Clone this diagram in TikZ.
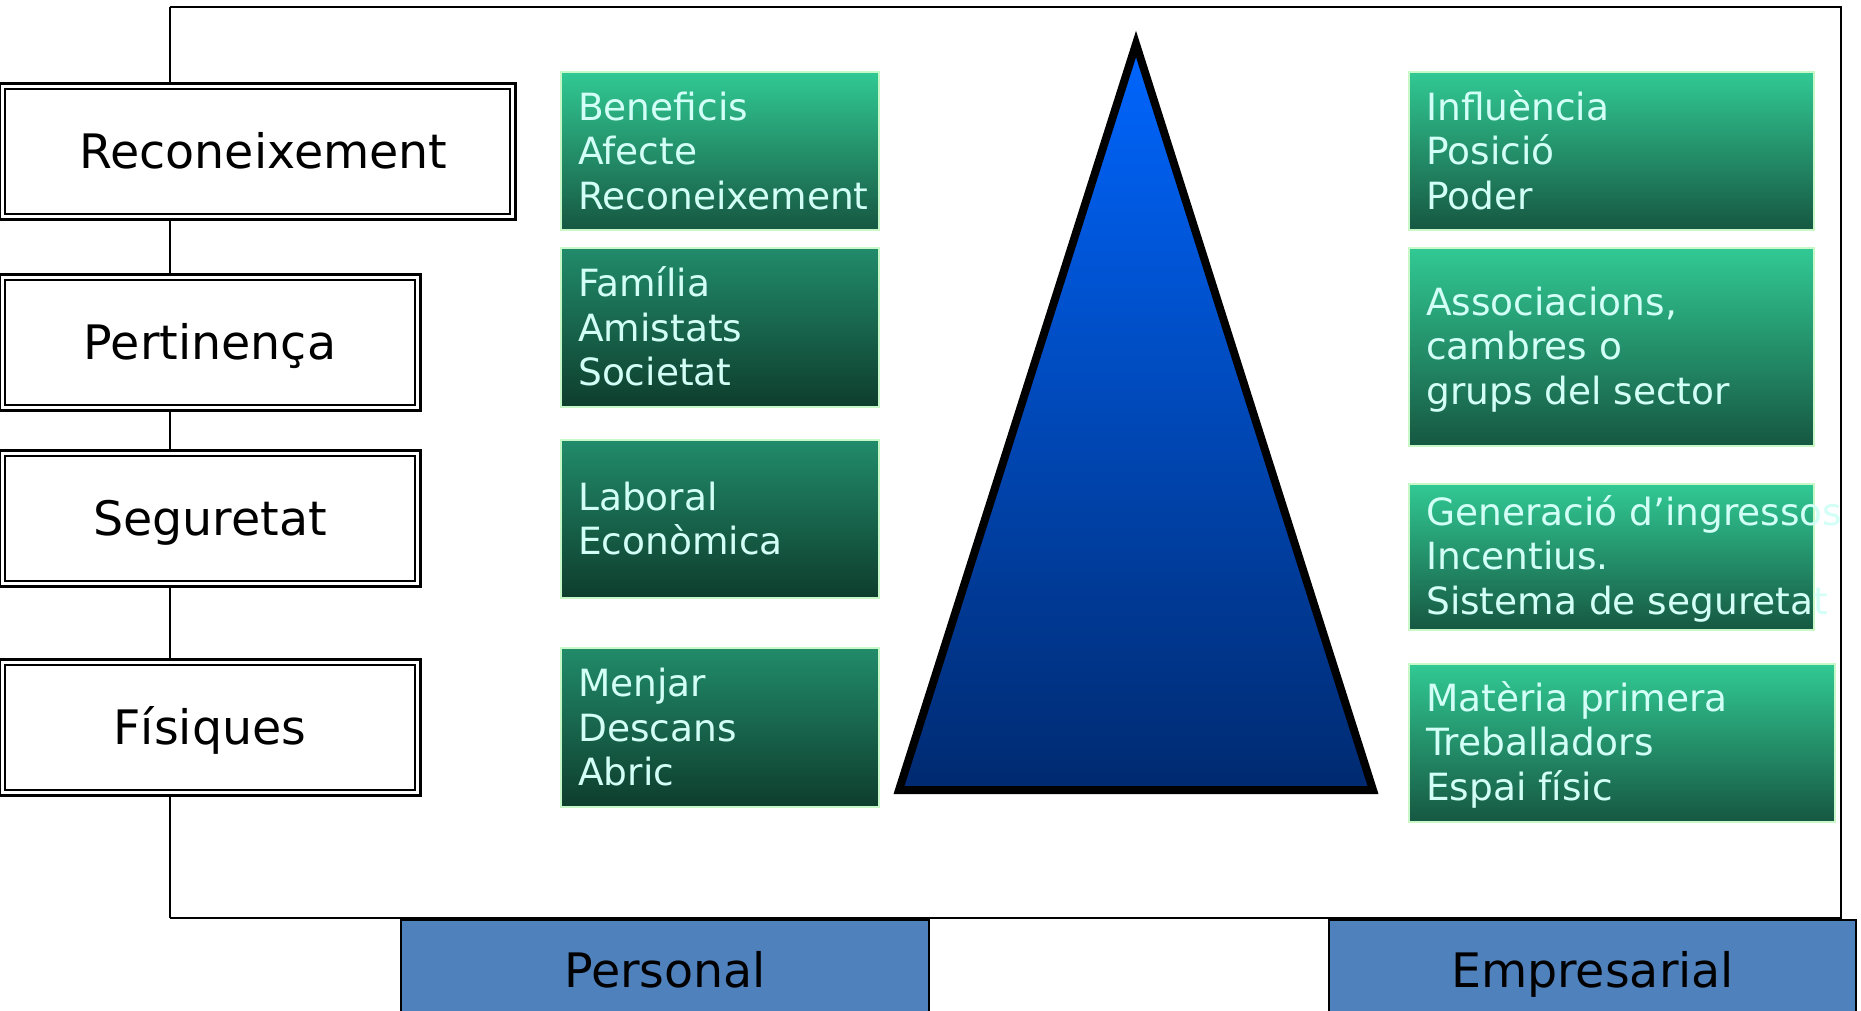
\documentclass[tikz,border=0pt]{standalone}
\usepackage{fontspec}
\setmainfont{DejaVu Sans}
\definecolor{gtopA}{HTML}{31C994}
\definecolor{gbotA}{HTML}{165741}
\definecolor{gtopB}{HTML}{218B6A}
\definecolor{gbotB}{HTML}{0E3D2D}
\definecolor{gline}{HTML}{C8F8C8}
\definecolor{gtxt}{HTML}{D2FFF6}
\definecolor{tritop}{HTML}{0066FF}
\definecolor{tribot}{HTML}{002A70}
\definecolor{bluebox}{HTML}{4F81BD}
\newcommand\gst{\rule[-0.17em]{0pt}{1.07em}}
\begin{document}
\begin{tikzpicture}[x=1pt,y=-1pt,
  lbox/.style={draw=black, line width=2pt, fill=white,
    anchor=north west, inner sep=0pt},
  lout/.style={draw=black, line width=3pt},
  ltext/.style={font=\fontsize{47.5}{57}\selectfont, text height=34.7pt, text depth=0pt, inner sep=0pt},
  gboxA/.style={draw=gline, line width=2pt, top color=gtopA, bottom color=gbotA,
    anchor=north west, inner sep=0pt},
  gboxB/.style={draw=gline, line width=2pt, top color=gtopB, bottom color=gbotB,
    anchor=north west, inner sep=0pt},
  gtext/.style={text=gtxt, font=\fontsize{37.5}{44.5}\selectfont, align=left, anchor=west, inner sep=0pt},
  bbox/.style={draw=black, line width=2pt, fill=bluebox, inner sep=0pt, anchor=north west},
  frameline/.style={line width=2.3pt},
  linkline/.style={line width=1.4pt}
]
\useasboundingbox (0,0) rectangle (1861,1011);

% frame
\coordinate (tl) at (170,7);
\coordinate (tr) at (1841,7);
\coordinate (br) at (1841,918);
\coordinate (bl) at (170,918);
\draw[frameline] (tl) -- (tr) -- (br) -- (bl);

% left boxes (double border: outer thick, inner thin)
\node[lbox, minimum width=505, minimum height=125] (rec) at (4,88) {};
\draw[lout] ([shift={(-4.5,-4.5)}]rec.north west) rectangle ([shift={(4.5,4.5)}]rec.south east);
\node[ltext] at ([xshift=6pt]rec.center) {Reconeixement};
\node[lbox, minimum width=410, minimum height=125] (per) at (4,279) {};
\draw[lout] ([shift={(-4.5,-4.5)}]per.north west) rectangle ([shift={(4.5,4.5)}]per.south east);
\node[ltext] at (per.center) {Pertinença};
\node[lbox, minimum width=410, minimum height=125] (seg) at (4,455) {};
\draw[lout] ([shift={(-4.5,-4.5)}]seg.north west) rectangle ([shift={(4.5,4.5)}]seg.south east);
\node[ltext] at (seg.center) {Seguretat};
\node[lbox, minimum width=410, minimum height=125] (fis) at (4,664) {};
\draw[lout] ([shift={(-4.5,-4.5)}]fis.north west) rectangle ([shift={(4.5,4.5)}]fis.south east);
\node[ltext] at (fis.center) {Físiques};

\draw[linkline] (tl) -- ([yshift=4.5pt]rec.north -| tl);
\draw[linkline] ([yshift=-4.5pt]rec.south -| tl) -- ([yshift=4.5pt]per.north -| tl);
\draw[linkline] ([yshift=-4.5pt]per.south -| tl) -- ([yshift=4.5pt]seg.north -| tl);
\draw[linkline] ([yshift=-4.5pt]seg.south -| tl) -- ([yshift=4.5pt]fis.north -| tl);
\draw[linkline] ([yshift=-4.5pt]fis.south -| tl) -- (bl);

% triangle
\draw[line width=8pt, line join=miter, miter limit=20, top color=tritop, bottom color=tribot]
  (1136,44) -- (1373,790) -- (899,790) -- cycle;

% green boxes, left column
\node[gboxA, minimum width=318, minimum height=158] (g1) at (560,71) {};
\node[gtext] at ([xshift=18pt]g1.west) {Beneficis\gst\\Afecte\gst\\Reconeixement\gst};
\node[gboxB, minimum width=318, minimum height=159] (g2) at (560,247) {};
\node[gtext] at ([xshift=18pt]g2.west) {Família\gst\\Amistats\gst\\Societat\gst};
\node[gboxB, minimum width=318, minimum height=158] (g3) at (560,439) {};
\node[gtext] at ([xshift=18pt]g3.west) {Laboral\gst\\Econòmica\gst};
\node[gboxB, minimum width=318, minimum height=159] (g4) at (560,647) {};
\node[gtext] at ([xshift=18pt]g4.west) {Menjar\gst\\Descans\gst\\Abric\gst};

% green boxes, right column
\node[gboxA, minimum width=405, minimum height=158] (g5) at (1408,71) {};
\node[gtext] at ([xshift=18pt]g5.west) {Influència\gst\\Posició\gst\\Poder\gst};
\node[gboxA, minimum width=405, minimum height=198] (g6) at (1408,247) {};
\node[gtext] at ([xshift=18pt]g6.west) {Associacions,\gst\\cambres o\gst\\grups del sector\gst};
\node[gboxA, minimum width=405, minimum height=146] (g7) at (1408,483) {};
\node[gtext] at ([xshift=18pt]g7.west) {Generació d’ingressos\gst\\Incentius.\gst\\Sistema de seguretat\gst};
\node[gboxA, minimum width=426, minimum height=158] (g8) at (1408,663) {};
\node[gtext] at ([xshift=18pt]g8.west) {Matèria primera\gst\\Treballadors\gst\\Espai físic\gst};

% bottom boxes
\node[bbox, minimum width=528, minimum height=100] (pers) at (400,919) {};
\node[ltext] at (pers.center) {Personal};
\node[bbox, minimum width=527, minimum height=100] (emp) at (1328,919) {};
\node[ltext] at (emp.center) {Empresarial};
\end{tikzpicture}
\end{document}
